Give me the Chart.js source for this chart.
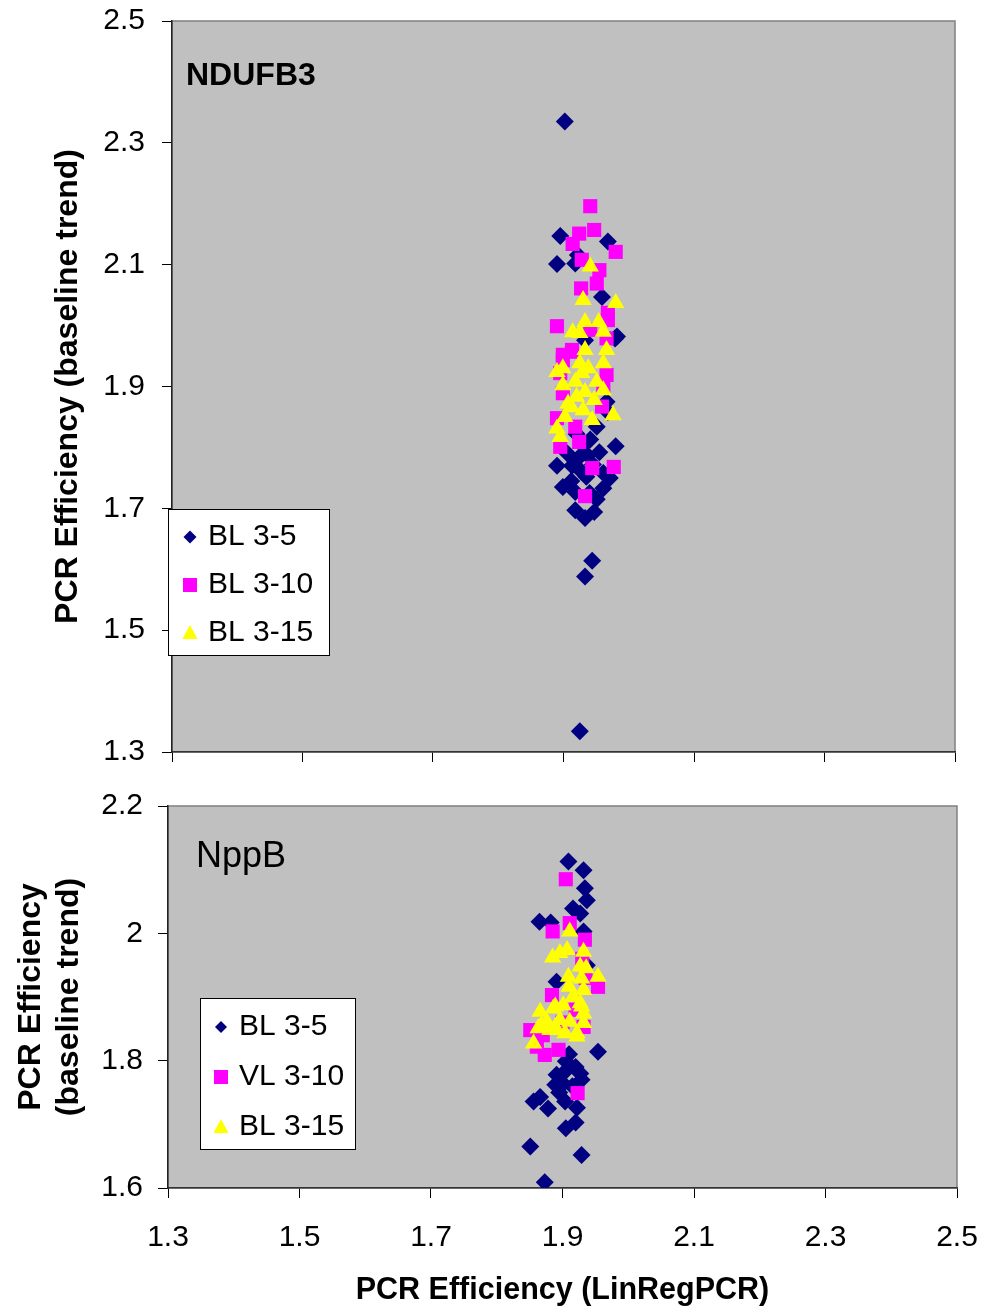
<!DOCTYPE html>
<html>
<head>
<meta charset="utf-8">
<script src="https://cdn.jsdelivr.net/npm/chart.js@4.4.0/dist/chart.umd.min.js"></script>
<style>
  body { margin: 0; background: #fff; width: 983px; height: 1308px; overflow: hidden; position: relative; }
  canvas { position: absolute; left: 0; }
  #ndufb3 { top: 0; }
  #nppb { top: 780px; }
</style>
</head>
<body>
<canvas id="ndufb3" width="983" height="780"></canvas>
<canvas id="nppb" width="983" height="528"></canvas>
<script>
// tick labels
var xTickLabels = ['1.3', '1.5', '1.7', '1.9', '2.1', '2.3', '2.5'];
var nduYTicks = ['1.3', '1.5', '1.7', '1.9', '2.1', '2.3', '2.5'];
var nppYTicks = ['1.6', '1.8', '2', '2.2'];

// legend names
var nduNames = ['BL 3-5', 'BL 3-10', 'BL 3-15'];
var nppNames = ['BL 3-5', 'VL 3-10', 'BL 3-15'];

// NDUFB3  [LinRegPCR, baseline trend]
var nduBL35 = [[1.902,2.335],[1.895,2.147],[1.890,2.101],[1.968,2.138],[1.918,2.102],[1.922,2.116],[1.959,2.047],
  [1.979,1.979],[1.933,1.976],[1.982,1.982],[1.966,1.875],[1.951,1.834],[1.941,1.813],[1.968,1.858],[1.980,1.802],
  [1.890,1.770],[1.913,1.770],[1.925,1.785],[1.937,1.787],[1.899,1.735],[1.918,1.727],[1.961,1.758],[1.971,1.750],
  [1.961,1.733],[1.951,1.715],[1.918,1.697],[1.933,1.684],[1.947,1.694],[1.944,1.614],[1.933,1.588],[1.925,1.334],
  [1.930,1.803],[1.920,1.822],[1.945,1.772],[1.935,1.752],[1.906,1.790],[1.928,1.760],[1.955,1.792],[1.912,1.745],[1.940,1.725]];
var nduBL310 = [[1.941,2.196],[1.924,2.151],[1.947,2.157],[1.914,2.134],[1.980,2.121],[1.928,2.108],[1.955,2.091],
  [1.927,2.061],[1.951,2.069],[1.941,1.993],[1.890,1.999],[1.968,2.009],[1.966,1.979],[1.899,1.952],[1.913,1.960],
  [1.968,2.021],[1.913,1.957],[1.899,1.943],[1.895,1.922],[1.966,1.919],[1.961,1.900],[1.899,1.889],[1.959,1.867],
  [1.890,1.848],[1.918,1.834],[1.895,1.801],[1.924,1.809],[1.944,1.766],[1.977,1.768],[1.933,1.720]];
var nduBL315 = [[1.941,2.097],[1.930,2.042],[1.980,2.037],[1.954,2.006],[1.933,2.006],[1.914,1.989],[1.925,1.988],
  [1.961,1.990],[1.933,1.960],[1.966,1.960],[1.961,1.938],[1.925,1.938],[1.899,1.930],[1.890,1.924],[1.938,1.930],
  [1.899,1.902],[1.918,1.908],[1.951,1.908],[1.961,1.894],[1.933,1.891],[1.920,1.883],[1.907,1.872],[1.947,1.878],
  [1.930,1.861],[1.902,1.850],[1.976,1.853],[1.944,1.845],[1.890,1.831],[1.895,1.817],[1.928,1.922],[1.912,1.866]];

// NppB
var nppBL35 = [[1.909,2.113],[1.932,2.099],[1.934,2.071],[1.937,2.052],[1.916,2.039],[1.927,2.031],[1.865,2.018],
  [1.882,2.017],[1.932,2.003],[1.891,1.924],[1.937,1.950],[1.954,1.814],[1.905,1.799],[1.891,1.778],[1.904,1.783],
  [1.927,1.780],[1.929,1.770],[1.889,1.762],[1.901,1.764],[1.866,1.743],[1.856,1.736],[1.878,1.725],[1.904,1.736],
  [1.922,1.726],[1.920,1.703],[1.905,1.694],[1.851,1.665],[1.929,1.652],[1.873,1.609],[1.910,1.810],[1.920,1.790],
  [1.895,1.750],[1.915,1.760]];
var nppVL310 = [[1.905,2.085],[1.911,2.016],[1.885,2.003],[1.934,1.990],[1.954,1.916],[1.884,1.903],[1.851,1.848],
  [1.873,1.809],[1.894,1.817],[1.923,1.749],[1.932,1.853],[1.861,1.822],[1.920,1.880],[1.935,1.930],[1.900,1.860],
  [1.870,1.840],[1.930,1.960]];
var nppBL315 = [[1.911,2.003],[1.907,1.974],[1.896,1.969],[1.885,1.962],[1.932,1.971],[1.927,1.948],[1.936,1.945],
  [1.954,1.932],[1.909,1.932],[1.910,1.916],[1.929,1.929],[1.932,1.911],[1.916,1.900],[1.901,1.887],[1.889,1.885],
  [1.866,1.877],[1.927,1.890],[1.932,1.874],[1.876,1.861],[1.896,1.864],[1.911,1.861],[1.932,1.859],[1.863,1.851],
  [1.889,1.848],[1.922,1.843],[1.886,1.882],[1.929,1.885],[1.868,1.856],[1.881,1.848],[1.856,1.827],[1.904,1.843],
  [1.922,1.838],[1.889,1.853]];

var colors = ['#000080', '#ff00ff', '#ffff00'];
var styles = ['rectRot', 'rect', 'triangle'];
var FONT = '"Liberation Sans", Arial, sans-serif';

function pts(arr) {
  return arr.map(function (p) { return { x: p[0], y: p[1] }; });
}

function marker(ctx, style, x, y, r) {
  ctx.beginPath();
  if (style === 'rectRot') {
    ctx.moveTo(x, y - r); ctx.lineTo(x + r, y); ctx.lineTo(x, y + r); ctx.lineTo(x - r, y);
  } else if (style === 'rect') {
    ctx.rect(x - r, y - r, 2 * r, 2 * r);
  } else {
    ctx.moveTo(x, y - r); ctx.lineTo(x + r * 0.95, y + r * 0.75); ctx.lineTo(x - r * 0.95, y + r * 0.75);
  }
  ctx.closePath();
  ctx.fill();
}

// plot background, gene label and boxed legend
var decor = {
  id: 'decor',
  beforeDraw: function (chart, args, o) {
    var a = chart.chartArea, ctx = chart.ctx;
    ctx.save();
    ctx.fillStyle = '#c0c0c0';
    ctx.fillRect(a.left, a.top, a.right - a.left, a.bottom - a.top);
    ctx.strokeStyle = '#808080';
    ctx.lineWidth = 1.5;
    ctx.strokeRect(a.left, a.top, a.right - a.left, a.bottom - a.top);
    ctx.restore();
  },
  afterDraw: function (chart, args, o) {
    var a = chart.chartArea, ctx = chart.ctx;
    ctx.save();
    ctx.fillStyle = '#000';
    ctx.font = o.labelFont;
    ctx.textBaseline = 'alphabetic';
    ctx.fillText(o.label, a.left + o.labelX, a.top + o.labelY);

    var L = o.legend;
    ctx.fillStyle = '#fff';
    ctx.fillRect(L.x, L.y, L.w, L.h);
    ctx.strokeStyle = '#000';
    ctx.lineWidth = 1;
    ctx.strokeRect(L.x + 0.5, L.y + 0.5, L.w, L.h);
    ctx.font = '30px ' + FONT;
    ctx.textBaseline = 'middle';
    for (var i = 0; i < o.names.length; i++) {
      var cy = L.y + L.first + i * L.step;
      ctx.fillStyle = colors[i];
      marker(ctx, styles[i], L.x + L.mx, cy, L.r[i]);
      ctx.fillStyle = '#000';
      ctx.fillText(o.names[i], L.x + L.tx, cy);
    }
    ctx.restore();
  }
};

function makeChart(id, series, cfg) {
  var radii = [9, 10, 10];
  var datasets = series.map(function (s, i) {
    return {
      label: cfg.names[i],
      data: pts(s),
      pointStyle: styles[i],
      pointRadius: radii[i],
      backgroundColor: colors[i],
      borderColor: colors[i],
      borderWidth: 0,
      order: 3 - i
    };
  });
  return new Chart(document.getElementById(id), {
    type: 'scatter',
    data: { datasets: datasets },
    plugins: [decor],
    options: {
      responsive: false,
      animation: false,
      devicePixelRatio: 1,
      events: [],
      layout: { padding: { left: 0, top: cfg.padTop, right: cfg.padRight, bottom: 0 } },
      plugins: {
        legend: { display: false },
        tooltip: { enabled: false },
        decor: { label: cfg.label, labelFont: cfg.labelFont, labelX: cfg.labelX, labelY: cfg.labelY,
                 names: cfg.names, legend: cfg.legend }
      },
      scales: {
        x: {
          type: 'linear', min: 1.3, max: 2.5,
          afterFit: function (s) { s.height = cfg.xHeight; s.paddingLeft = 0; s.paddingRight = 0; },
          grid: { drawOnChartArea: false, drawTicks: true, tickLength: 10, color: '#000' },
          border: { color: '#333', width: 1.5 },
          ticks: {
            display: cfg.showX, stepSize: 0.2, padding: 22, color: '#000',
            font: { family: FONT, size: 30 },
            callback: function (v, i) { return xTickLabels[i]; }
          },
          title: {
            display: cfg.showX, text: 'PCR Efficiency (LinRegPCR)', color: '#000',
            font: { family: FONT, size: 30.5, weight: 'bold' }, padding: { top: 0, bottom: -1 }
          }
        },
        y: {
          type: 'linear', min: cfg.yMin, max: cfg.yMax,
          afterFit: function (s) { s.width = cfg.yWidth; s.paddingTop = 0; s.paddingBottom = 0; },
          grid: { drawOnChartArea: false, drawTicks: true, tickLength: 10, color: '#000' },
          border: { color: '#222', width: 1.5 },
          ticks: {
            stepSize: 0.2, padding: cfg.yPad, color: '#000',
            font: { family: FONT, size: 30 },
            callback: function (v, i) { return cfg.yTicks[i]; }
          },
          title: {
            display: true, text: cfg.yTitle, color: '#000',
            font: { family: FONT, size: 32, weight: 'bold', lineHeight: 1.2 },
            padding: { top: cfg.yTitlePad, bottom: 0 }
          }
        }
      }
    }
  });
}

makeChart('ndufb3', [nduBL35, nduBL310, nduBL315], {
  names: nduNames, yTicks: nduYTicks, yMin: 1.3, yMax: 2.5,
  yTitle: 'PCR Efficiency (baseline trend)', yTitlePad: 49,
  padTop: 21, padRight: 28, yWidth: 172, xHeight: 28, yPad: 17, showX: false,
  label: 'NDUFB3', labelFont: 'bold 32px ' + FONT, labelX: 14, labelY: 64,
  legend: { x: 168, y: 509, w: 161, h: 146, first: 28, step: 48, mx: 22, tx: 40, r: [6.5, 7, 8] }
});

makeChart('nppb', [nppBL35, nppVL310, nppBL315], {
  names: nppNames, yTicks: nppYTicks, yMin: 1.6, yMax: 2.2,
  yTitle: ['PCR Efficiency', '(baseline trend)'], yTitlePad: 12,
  padTop: 26, padRight: 26, yWidth: 168, xHeight: 120, yPad: 15, showX: true,
  label: 'NppB', labelFont: '36px ' + FONT, labelX: 28, labelY: 61,
  legend: { x: 200, y: 218, w: 155, h: 151, first: 29, step: 50, mx: 21, tx: 39, r: [6, 7, 8] }
});
</script>
</body>
</html>
